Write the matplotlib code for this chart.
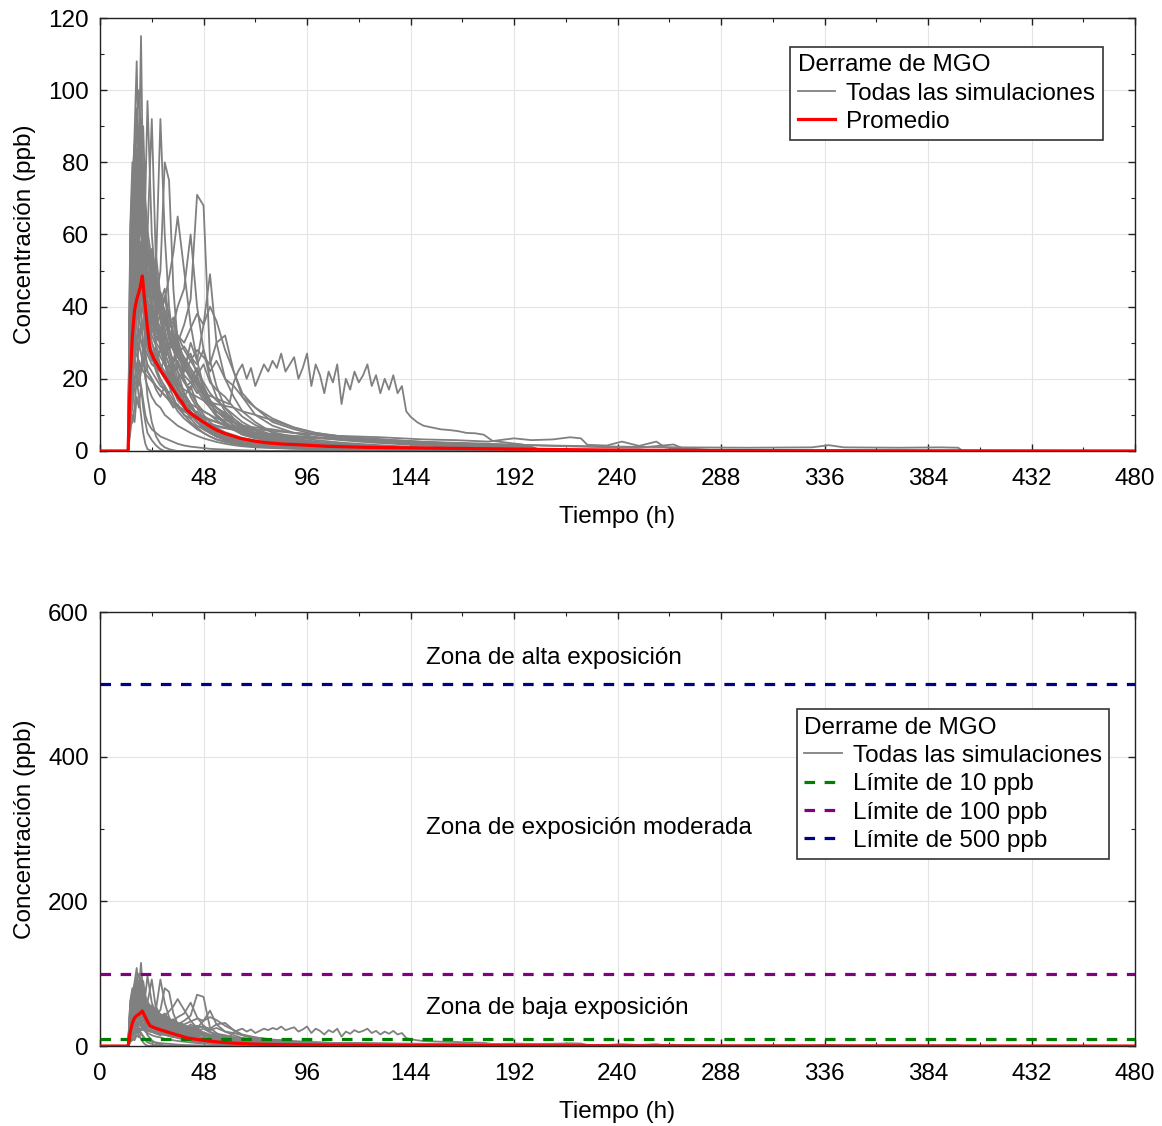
import matplotlib.pyplot as plt
from matplotlib.ticker import MultipleLocator

plt.rcParams['font.family'] = ['Liberation Sans', 'DejaVu Sans']
plt.rcParams['font.size'] = 17.5

# Tiempo (h) comun a las simulaciones
SIM_T = [0, 13, 14, 15, 16, 17, 18, 19, 20, 21, 22,
         24, 26, 28, 30, 32, 34, 36,
         39, 42, 45, 48, 51, 54, 58, 62, 66, 72,
         80, 90, 100, 112, 124, 136, 150, 170, 200]

# Concentracion (ppb) de cada simulacion
SIM_01 = [0, 0, 40, 62, 78, 95, 80, 115, 70, 55, 48, 38, 30, 34, 25, 22, 18, 15,
          12, 10, 8, 6, 5, 4, 3.2, 2.6, 2.2, 1.8, 1.4, 1.0, 0.8, 0.6, 0.5, 0.4, 0.3, 0.2, 0.1]
SIM_02 = [0, 0, 55, 70, 88, 108, 75, 92, 60, 50, 42, 35, 40, 28, 24, 20, 17, 14,
          12, 9, 7, 6, 5, 4, 3, 2.5, 2, 1.6, 1.2, 0.9, 0.7, 0.5, 0.4, 0.3, 0.2, 0.1, 0]
SIM_03 = [0, 0, 30, 45, 60, 72, 85, 80, 90, 70, 97, 60, 45, 38, 30, 26, 22, 18,
          14, 11, 9, 7, 6, 5, 4, 3, 2.5, 2, 1.5, 1.1, 0.9, 0.7, 0.5, 0.4, 0.3, 0.2, 0.1]
SIM_04 = [0, 0, 25, 40, 55, 65, 58, 70, 62, 55, 50, 45, 52, 92, 60, 40, 30, 22,
          16, 12, 10, 8, 6, 5, 4, 3.2, 2.6, 2, 1.5, 1.1, 0.9, 0.7, 0.5, 0.4, 0.3, 0.2, 0.1]
SIM_05 = [0, 0, 35, 50, 68, 60, 72, 66, 58, 62, 55, 48, 42, 50, 80, 75, 45, 30,
          20, 15, 12, 9, 7, 6, 5, 4, 3, 2.4, 1.8, 1.3, 1.0, 0.8, 0.6, 0.5, 0.4, 0.3, 0.1]
SIM_06 = [0, 0, 20, 30, 42, 50, 55, 48, 52, 45, 40, 35, 38, 30, 32, 28, 25, 30,
          35, 42, 71, 68, 25, 18, 12, 9, 7, 5, 3.5, 2.5, 1.8, 1.3, 1.0, 0.8, 0.6, 0.4, 0.2]
SIM_07 = [0, 0, 18, 28, 35, 42, 38, 45, 40, 36, 32, 28, 25, 22, 26, 20, 24, 28,
          22, 30, 25, 35, 49, 30, 20, 15, 11, 8, 5, 3.5, 2.5, 1.8, 1.3, 1.0, 0.8, 0.5, 0.3]
SIM_08 = [0, 0, 22, 38, 50, 58, 64, 60, 55, 50, 46, 42, 45, 38, 42, 48, 55, 65,
          50, 35, 25, 18, 14, 10, 8, 6, 4.5, 3.5, 2.5, 1.8, 1.3, 1.0, 0.8, 0.6, 0.4, 0.3, 0.1]
SIM_09 = [0, 0, 45, 60, 72, 80, 70, 85, 75, 62, 55, 45, 38, 32, 27, 24, 20, 17,
          14, 11, 9, 7, 5.5, 4.5, 3.5, 2.8, 2.2, 1.7, 1.3, 1.0, 0.8, 0.6, 0.5, 0.4, 0.3, 0.2, 0.1]
SIM_10 = [0, 0, 15, 22, 30, 36, 40, 38, 42, 35, 30, 26, 22, 19, 17, 15, 13, 11,
          9, 7.5, 6, 5, 4, 3.2, 2.6, 2.1, 1.7, 1.3, 1.0, 0.8, 0.6, 0.5, 0.4, 0.3, 0.2, 0.1, 0]
SIM_11 = [0, 0, 8, 12, 18, 20, 15, 10, 5, 2, 0.5, 0, 0, 0, 0, 0, 0, 0,
          0, 0, 0, 0, 0, 0, 0, 0, 0, 0, 0, 0, 0, 0, 0, 0, 0, 0, 0]
SIM_12 = [0, 0, 7, 8, 12, 20, 25, 22, 30, 28, 35, 30, 26, 22, 20, 18, 15, 12,
          10, 8, 6.5, 5, 4, 3.2, 2.5, 2, 1.6, 1.2, 0.9, 0.7, 0.5, 0.4, 0.3, 0.2, 0.15, 0.1, 0]
SIM_13 = [0, 0, 28, 42, 55, 48, 60, 52, 45, 40, 36, 30, 27, 24, 22, 20, 18, 16,
          14, 13, 12, 11, 10, 9, 8.5, 8, 7, 6.5, 6, 5, 4.5, 4, 3.5, 3, 2.5, 1.8, 1.2]
SIM_14 = [0, 0, 30, 48, 40, 55, 62, 50, 45, 40, 38, 34, 30, 28, 25, 30, 35, 40,
          45, 60, 40, 28, 20, 15, 11, 8, 6, 4.5, 3.2, 2.4, 1.8, 1.3, 1.0, 0.8, 0.6, 0.4, 0.2]
SIM_15 = [0, 0, 12, 25, 35, 30, 22, 18, 12, 8, 5, 3, 1.5, 0.5, 0, 0, 0, 0,
          0, 0, 0, 0, 0, 0, 0, 0, 0, 0, 0, 0, 0, 0, 0, 0, 0, 0, 0]
SIM_16 = [0, 0, 50, 68, 82, 90, 100, 88, 78, 65, 58, 50, 42, 36, 30, 26, 22, 19,
          16, 13, 10, 8, 6.5, 5, 4, 3.2, 2.5, 2, 1.5, 1.1, 0.9, 0.7, 0.5, 0.4, 0.3, 0.2, 0.1]
SIM_17 = [0, 0, 20, 32, 44, 50, 46, 55, 48, 44, 40, 36, 33, 30, 28, 32, 30, 27,
          29, 26, 24, 28, 22, 25, 20, 18, 15, 12, 9, 6.5, 5, 4, 3.2, 2.6, 2, 1.5, 1]
SIM_18 = [0, 0, 10, 18, 25, 32, 28, 35, 30, 26, 24, 22, 20, 18, 17, 16, 18, 20,
          22, 25, 28, 26, 24, 30, 32, 22, 15, 10, 7, 5, 3.8, 3, 2.4, 2, 1.5, 1.0, 0.6]
SIM_19 = [0, 0, 5, 10, 8, 15, 12, 18, 14, 10, 8, 6, 5, 4, 3.5, 3, 2.5, 2,
          1.5, 1.2, 1, 0.8, 0.6, 0.5, 0.4, 0.3, 0.2, 0.1, 0, 0, 0, 0, 0, 0, 0, 0, 0]
SIM_20 = [0, 0, 38, 55, 62, 75, 68, 60, 72, 58, 50, 42, 36, 44, 38, 32, 28, 24,
          20, 16, 13, 10, 8, 6.5, 5, 4, 3.2, 2.5, 1.9, 1.4, 1.0, 0.8, 0.6, 0.5, 0.4, 0.3, 0.1]
SIM_21 = [0, 0, 14, 20, 26, 30, 34, 30, 28, 32, 30, 27, 25, 28, 26, 30, 28, 32,
          30, 34, 38, 35, 40, 36, 28, 22, 16, 12, 8, 6, 4.5, 3.5, 2.8, 2.2, 1.7, 1.2, 0.8]
SIM_22 = [0, 0, 25, 35, 45, 40, 50, 44, 38, 34, 30, 26, 23, 20, 18, 16, 14, 12.5,
          11, 10, 9, 8, 7.5, 7, 6.5, 6, 5.5, 5, 4.6, 4.2, 3.8, 3.4, 3, 2.6, 2.2, 1.6, 1.0]
SIM_23 = [0, 0, 18, 30, 40, 46, 52, 48, 44, 40, 36, 32, 29, 26, 24, 22, 20, 18.5,
          17, 16, 15, 14, 13.5, 13, 12.5, 12, 11, 10, 8.5, 6.5, 5, 4, 3.4, 3, 2.5, 2, 1.2]
SIM_24 = [0, 0, 32, 40, 52, 65, 58, 50, 56, 48, 42, 38, 34, 30, 27, 24, 21, 18,
          15, 12.5, 10, 8, 6.5, 5.2, 4.2, 3.4, 2.8, 2.2, 1.7, 1.3, 1.0, 0.8, 0.6, 0.5, 0.4, 0.3, 0.2]
SIM_25 = [0, 0, 20, 35, 28, 40, 45, 38, 30, 22, 15, 8, 4, 2, 1, 0.5, 0.2, 0,
          0, 0, 0, 0, 0, 0, 0, 0, 0, 0, 0, 0, 0, 0, 0, 0, 0, 0, 0]
SIM_26 = [0, 0, 60, 75, 85, 70, 64, 72, 66, 55, 48, 40, 34, 29, 25, 21, 18, 15,
          12, 10, 8, 6.5, 5, 4, 3.2, 2.5, 2, 1.6, 1.2, 0.9, 0.7, 0.5, 0.4, 0.3, 0.2, 0.1, 0]
SIM_27 = [0, 0, 35, 48, 58, 66, 60, 68, 62, 56, 60, 92, 50, 40, 34, 28, 24, 20,
          16, 13, 10, 8, 6, 5, 4, 3.2, 2.5, 2, 1.5, 1.1, 0.8, 0.6, 0.5, 0.4, 0.3, 0.2, 0.1]
SIM_28 = [0, 0, 26, 38, 46, 54, 50, 58, 52, 47, 44, 40, 37, 34, 36, 31, 28, 26,
          23, 20, 17, 14, 12, 10, 8, 6.5, 5, 4, 3, 2.3, 1.8, 1.4, 1.1, 0.9, 0.7, 0.5, 0.3]
SIM_29 = [0, 0, 42, 52, 48, 58, 66, 62, 54, 58, 50, 44, 48, 40, 35, 38, 32, 28,
          24, 21, 18, 15, 12, 9.5, 7.5, 6, 4.8, 3.8, 2.8, 2.1, 1.6, 1.2, 0.9, 0.7, 0.5, 0.3, 0.1]
SIM_30 = [0, 0, 10, 14, 20, 24, 18, 22, 26, 20, 18, 15, 13, 12, 10, 9, 8, 7,
          6, 5, 4.2, 3.5, 3, 2.5, 2, 1.6, 1.3, 1.0, 0.8, 0.6, 0.5, 0.4, 0.3, 0.2, 0.1, 0.1, 0]
SIM_31 = [0, 0, 48, 65, 58, 70, 78, 66, 72, 60, 54, 46, 40, 44, 36, 33, 29, 31,
          25, 22, 19, 16, 13, 11, 9, 7, 5.5, 4.2, 3.1, 2.3, 1.7, 1.3, 1.0, 0.8, 0.6, 0.4, 0.2]
SIM_32 = [0, 0, 24, 36, 30, 44, 52, 47, 41, 45, 38, 33, 36, 30, 27, 29, 24, 22,
          19, 17, 21, 15, 13, 11, 9.5, 8, 6.4, 5, 3.8, 2.9, 2.2, 1.7, 1.3, 1.0, 0.8, 0.5, 0.3]
SIM_33 = [0, 0, 36, 58, 66, 62, 74, 80, 68, 64, 57, 52, 46, 42, 39, 35, 37, 32,
          28, 25, 22, 19, 16, 14, 12, 10, 8, 6, 4.5, 3.3, 2.5, 1.9, 1.4, 1.1, 0.8, 0.5, 0.3]
SIM_34 = [0, 0, 16, 24, 34, 28, 38, 33, 36, 31, 28, 25, 29, 23, 21, 24, 19, 17,
          15, 18, 13, 11, 10, 8.5, 7, 5.8, 4.6, 3.6, 2.7, 2.0, 1.5, 1.2, 0.9, 0.7, 0.5, 0.3, 0.2]
SIM_35 = [0, 0, 52, 74, 66, 84, 72, 78, 64, 70, 61, 53, 47, 41, 45, 37, 33, 29,
          26, 23, 20, 17, 14, 12, 9.8, 8, 6.3, 4.8, 3.5, 2.6, 1.9, 1.4, 1.1, 0.8, 0.6, 0.4, 0.2]
SIM_36 = [0, 0, 30, 44, 38, 50, 46, 56, 50, 43, 47, 41, 35, 38, 32, 28, 31, 26,
          24, 27, 21, 24, 19, 17, 15, 12, 9.5, 7.2, 5.2, 3.9, 3, 2.3, 1.8, 1.4, 1.0, 0.7, 0.4]
SIM_37 = [0, 0, 12, 20, 26, 22, 30, 27, 24, 28, 22, 20, 17, 15, 18, 14, 12, 13,
          10, 9, 11, 8, 7, 6.2, 5.2, 4.4, 3.6, 2.9, 2.2, 1.7, 1.3, 1.0, 0.8, 0.6, 0.4, 0.3, 0.1]
SIM_38 = [0, 0, 44, 56, 70, 64, 58, 66, 74, 60, 52, 56, 45, 39, 43, 34, 30, 27,
          24, 20, 23, 17, 14, 12, 10, 8, 6.5, 5, 3.7, 2.8, 2.1, 1.6, 1.2, 0.9, 0.7, 0.4, 0.2]
SIM_39 = [0, 0, 20, 28, 36, 44, 40, 48, 42, 38, 41, 36, 31, 34, 29, 26, 23, 25,
          21, 19, 16, 18, 14, 12, 10.5, 8.8, 7.2, 5.6, 4.2, 3.1, 2.4, 1.8, 1.4, 1.1, 0.8, 0.5, 0.3]
SIM_40 = [0, 0, 62, 80, 72, 92, 82, 70, 76, 64, 57, 49, 54, 43, 38, 34, 36, 29,
          25, 22, 19, 16, 13, 11, 9, 7.2, 5.6, 4.3, 3.2, 2.4, 1.8, 1.4, 1.0, 0.8, 0.6, 0.4, 0.2]

# Simulaciones de cola larga (tiempo propio)
PLATEAU_T = [0, 13, 14, 15, 18, 21, 24, 28, 32, 36, 40,
             44, 48, 52, 56, 60, 62, 64, 66, 68, 70,
             72, 74, 76, 78, 80, 82, 84, 86, 88, 90,
             92, 94, 96, 98, 100, 102, 104, 106, 108, 110,
             112, 114, 116, 118, 120, 122, 124, 126, 128, 130,
             132, 134, 136, 138, 140, 142, 144, 147, 150, 154,
             158, 162, 166, 170, 174, 178, 182, 186, 190, 196, 202]
PLATEAU_V = [0, 0, 10, 25, 32, 28, 24, 22, 20, 24, 18,
             20, 16, 15, 14, 13, 19, 22, 24, 20, 23,
             18, 21, 24, 22, 25, 23, 27, 22, 24, 26,
             20, 23, 27, 18, 24, 21, 16, 22, 19, 24,
             13, 20, 17, 22, 19, 21, 24, 18, 21, 16,
             20, 17, 21, 16, 18, 11, 9.5, 8, 7, 6.5,
             6, 5.8, 5.5, 5.0, 4.9, 4.5, 2.8, 2.5, 2.2, 1.8, 0.8]

LT2_T = [0, 13, 14, 16, 20, 26, 32, 40, 48, 60, 72, 90, 110, 130, 150,
         165, 180, 192, 200, 210, 218, 223, 226, 235, 242, 250, 258, 262, 270]
LT2_V = [0, 0, 15, 28, 22, 18, 14, 11, 9, 7, 6, 5, 4.2, 3.8, 3.2,
         3.0, 2.6, 3.5, 3.0, 3.2, 3.8, 3.5, 1.7, 1.5, 2.6, 1.4, 2.6, 1.0, 0.5]

LT3_T = [0, 13, 14, 16, 20, 26, 34, 44, 56, 70, 90, 110, 130, 150,
         180, 210, 240, 270, 300, 330, 338, 345, 370, 390, 398, 400]
LT3_V = [0, 0, 12, 20, 24, 18, 13, 9, 6.5, 5, 3.8, 3.2, 2.8, 2.2,
         1.8, 1.5, 1.2, 1.0, 0.9, 1.0, 1.6, 1.0, 0.9, 1.0, 0.9, 0]

LT4_T = [0, 13, 14, 15, 18, 22, 28, 36, 46, 58, 72, 90,
         110, 130, 150, 170, 190, 210, 230, 250, 266, 270, 290]
LT4_V = [0, 0, 20, 34, 40, 30, 22, 15, 10, 7, 5, 4,
         3.5, 3, 2.5, 2.2, 1.8, 1.4, 1.1, 0.9, 1.8, 0.8, 0]

# Promedio
MEAN_T = [0, 13, 14, 15, 16, 17, 18, 19, 19.6, 20.8, 22, 23.2, 25, 27, 29, 31, 33,
          35.5, 38, 40.2, 43, 46.4, 50, 54, 58, 65, 72, 77, 85, 93, 105, 124,
          153, 180, 210, 250, 300, 480]
MEAN_V = [0, 0, 20, 32, 39, 42, 44, 46.5, 48.5, 41, 34, 28, 25.5, 23.4, 21.5, 19.7, 17.8,
          15.5, 13.5, 11.4, 10, 8.6, 7.2, 5.8, 4.8, 3.5, 2.7, 2.3, 1.9, 1.7, 1.3, 1.0,
          0.8, 0.6, 0.4, 0.2, 0.1, 0]

# Limites de exposicion (ppb)
LIMITS = [10, 100, 500]
LIMIT_LABELS = ['Límite de 10 ppb', 'Límite de 100 ppb', 'Límite de 500 ppb']
LIMIT_COLORS = ['#008000', '#800080', '#000080']

ZONES = ['Zona de alta exposición', 'Zona de exposición moderada', 'Zona de baja exposición']
ZONE_Y = [536, 302, 53]

SIMULATIONS = [SIM_01, SIM_02, SIM_03, SIM_04, SIM_05, SIM_06, SIM_07, SIM_08, SIM_09, SIM_10,
               SIM_11, SIM_12, SIM_13, SIM_14, SIM_15, SIM_16, SIM_17, SIM_18, SIM_19, SIM_20,
               SIM_21, SIM_22, SIM_23, SIM_24, SIM_25, SIM_26, SIM_27, SIM_28, SIM_29, SIM_30,
               SIM_31, SIM_32, SIM_33, SIM_34, SIM_35, SIM_36, SIM_37, SIM_38, SIM_39, SIM_40]
TAILS = [(PLATEAU_T, PLATEAU_V), (LT2_T, LT2_V), (LT3_T, LT3_V), (LT4_T, LT4_V)]

GRAY = '#808080'


def draw_simulations(ax):
    for i, sim in enumerate(SIMULATIONS):
        ax.plot(SIM_T, sim, color=GRAY, lw=1.3,
                label='Todas las simulaciones' if i == 0 else '_nolegend_')
    for t, v in TAILS:
        ax.plot(t, v, color=GRAY, lw=1.3)


def style_axes(ax, ymax, ymajor):
    ax.set_xlim(0, 480)
    ax.set_ylim(0, ymax)
    ax.xaxis.set_major_locator(MultipleLocator(48))
    ax.xaxis.set_minor_locator(MultipleLocator(24))
    ax.yaxis.set_major_locator(MultipleLocator(ymajor))
    ax.yaxis.set_minor_locator(MultipleLocator(ymajor / 2))
    ax.tick_params(which='both', direction='in', top=True, right=True, color='#222222')
    ax.tick_params(which='major', length=5, width=1.0, labelsize=17.5)
    ax.tick_params(axis='x', which='major', pad=12)
    ax.tick_params(axis='y', which='major', pad=8)
    ax.tick_params(which='minor', length=3, width=0.8)
    ax.grid(True, which='major', color='#e4e4e4', lw=0.8)
    ax.set_axisbelow(True)
    for sp in ax.spines.values():
        sp.set_color('#222222')
        sp.set_linewidth(1.0)
    ax.set_xlabel('Tiempo (h)', labelpad=12)
    ax.set_ylabel('Concentración (ppb)', labelpad=9)


fig = plt.figure(figsize=(11.62, 11.26), dpi=100)
ax1 = fig.add_axes([0.0861, 0.5995, 0.8907, 0.3845])
ax2 = fig.add_axes([0.0861, 0.0710, 0.8907, 0.3854])

leg_opts = dict(title='Derrame de MGO', fontsize=17.5, title_fontsize=17.5, fancybox=False,
                edgecolor='#333333', framealpha=1, borderaxespad=0, handlelength=1.55,
                handletextpad=0.45, labelspacing=0.26, borderpad=0.3, alignment='left')

# Panel superior
draw_simulations(ax1)
ax1.plot(MEAN_T, MEAN_V, color='red', lw=2.3, label='Promedio', zorder=5)
style_axes(ax1, 120, 20)
leg1 = ax1.legend(loc='upper left', bbox_to_anchor=(0.667, 0.933), **leg_opts)
leg1.get_frame().set_linewidth(1.2)

# Panel inferior
draw_simulations(ax2)
ax2.plot(MEAN_T, MEAN_V, color='red', lw=2.3, zorder=5)
for y, lab, col in zip(LIMITS, LIMIT_LABELS, LIMIT_COLORS):
    ax2.axhline(y, color=col, lw=2.3, dashes=(3.3, 3), label=lab, zorder=4)
for txt, y in zip(ZONES, ZONE_Y):
    ax2.text(151, y, txt, va='center', ha='left', fontsize=17.5)
style_axes(ax2, 600, 200)
leg2 = ax2.legend(loc='upper left', bbox_to_anchor=(0.673, 0.776), **leg_opts)
leg2.get_frame().set_linewidth(1.2)

fig.savefig('out.png', dpi=100)
